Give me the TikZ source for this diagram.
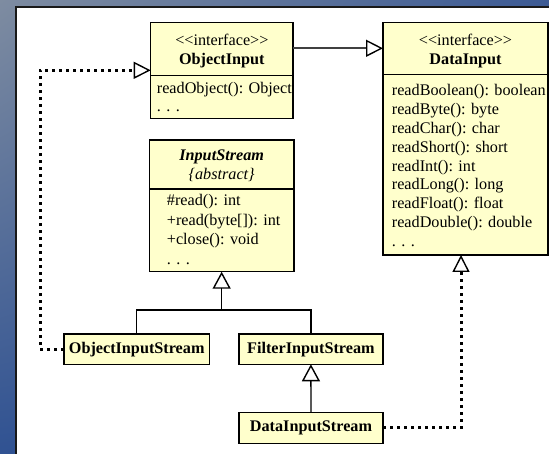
\documentclass[tikz,border=0pt]{standalone}
\usepackage{fontspec}
\setmainfont{Liberation Serif}
\usetikzlibrary{arrows.meta,shadings}
\definecolor{boxfill}{RGB}{255,255,204}
\definecolor{bgA}{RGB}{126,140,161}
\definecolor{bgB}{RGB}{60,90,148}
\definecolor{bgC}{RGB}{48,82,146}
\definecolor{bgD}{RGB}{40,70,140}
\definecolor{framecol}{RGB}{25,25,25}
\definecolor{assocgray}{RGB}{64,64,64}
\tikzset{
  classbox/.style={draw=black, fill=boxfill, line width=1.4pt, inner sep=0pt, outer sep=0pt},
  txt/.style={inner sep=0pt, font=\fontsize{16.2}{19}\selectfont},
  lbl/.style={txt, anchor=base west},
  clbl/.style={txt, anchor=base},
  bclbl/.style={clbl, font=\fontsize{16.2}{19}\selectfont\bfseries},
  bold/.style={font=\fontsize{16.2}{19}\selectfont\bfseries},
  sepline/.style={line width=1.4pt, black},
  genline/.style={line width=1.4pt, black},
  gentip/.style={genline, -{Triangle[open, length=17pt, width=18pt, line width=1.4pt]}},
  realline/.style={line width=3pt, black, dash pattern=on 3pt off 4pt,
    -{Triangle[open, length=17pt, width=17pt, line width=1.4pt]}},
  assocline/.style={line width=1.7pt, assocgray,
    -{Triangle[open, color=black, length=17pt, width=17pt, line width=1.4pt]}}
}
\begin{document}
\begin{tikzpicture}[x=1pt,y=-1pt]
\useasboundingbox (0,0) rectangle (549,454);
% background frame
\shade[upper left=bgA, upper right=bgB, lower left=bgC, lower right=bgD] (0,0) rectangle (549,454);
\fill[white] (16,7) rectangle (549,454);
\draw[framecol, line width=1.4pt] (16,454) -- (16,7) -- (549,7);

% ObjectInput
\node[classbox, minimum width=142.3pt, minimum height=96pt] (oi) at (221.85,70.3) {};
\draw[sepline] (oi.west |- 0,75.7) -- (oi.east |- 0,75.7);
\node[clbl] (oist) at (221.85,45.5) {<\kern0pt<interface>\kern0pt>};
\node[bclbl] (oinm) at (221.85,65) {ObjectInput};
\node[lbl] (oim1) at (156.7,93.3) {readObject(): Object};
\node[lbl] (oim2) at (156.7,111.5) {. . .};

% DataInput
\node[classbox, minimum width=165pt, minimum height=232.7pt] (di) at (465.5,138.65) {};
\draw[sepline] (di.west |- 0,74.8) -- (di.east |- 0,74.8);
\node[clbl] (dist) at (465.5,45.5) {<\kern0pt<interface>\kern0pt>};
\node[bclbl] (dinm) at (465.5,64.5) {DataInput};
\node[lbl] (dim1) at (391.7,95.5) {readBoolean(): boolean};
\node[lbl] (dim2) at (391.7,114.4) {readByte(): byte};
\node[lbl] (dim3) at (391.7,133.3) {readChar(): char};
\node[lbl] (dim4) at (391.7,152.2) {readShort(): short};
\node[lbl] (dim5) at (391.7,171.1) {readInt(): int};
\node[lbl] (dim6) at (391.7,190.0) {readLong(): long};
\node[lbl] (dim7) at (391.7,208.9) {readFloat(): float};
\node[lbl] (dim8) at (391.7,227.8) {readDouble(): double};
\node[lbl] (dim9) at (391.7,246.7) {. . .};

% InputStream
\node[classbox, minimum width=144.7pt, minimum height=131.7pt] (is) at (221.65,205.85) {};
\draw[sepline] (is.west |- 0,189) -- (is.east |- 0,189);
\node[clbl, font=\fontsize{16.2}{19}\selectfont\bfseries\itshape] (isnm) at (221.65,160.5) {InputStream};
\node[clbl, font=\fontsize{16.2}{19}\selectfont\itshape] (isab) at (221.65,179.5) {\{abstract\}};
\node[lbl] (ism1) at (166.7,206) {\#read(): int};
\node[lbl] (ism2) at (166.7,225.5) {+read(byte[]): int};
\node[lbl] (ism3) at (166.7,245) {+close(): void};
\node[lbl] (ism4) at (166.7,264.5) {. . .};

% concrete classes
\node[classbox, minimum width=145.4pt, minimum height=30.3pt, bold] (ois) at (136.7,349.15) {ObjectInputStream};
\node[classbox, minimum width=144.2pt, minimum height=30.3pt, bold] (fis) at (310.9,349.15) {FilterInputStream};
\node[classbox, minimum width=144.3pt, minimum height=31pt, bold] (dis) at (311,427.8) {DataInputStream};

% connectors
\coordinate (jn) at (221.65,310);
\coordinate (lc) at (40,0);
\coordinate (rc) at (461,0);
\coordinate (ay) at (0,48.3);
\draw[genline] (ois.north) |- (jn) -| (fis.north);
\draw[gentip] (jn) -- (is.south);
\draw[gentip] (dis.north) -- (fis.south);
\draw[assocline] (oi.east |- ay) -- (di.west |- ay);
\draw[realline] (ois.west) -- (ois.west -| lc) |- (oi.west);
\draw[realline] (dis.east) -| (rc |- di.south);
\end{tikzpicture}
\end{document}
